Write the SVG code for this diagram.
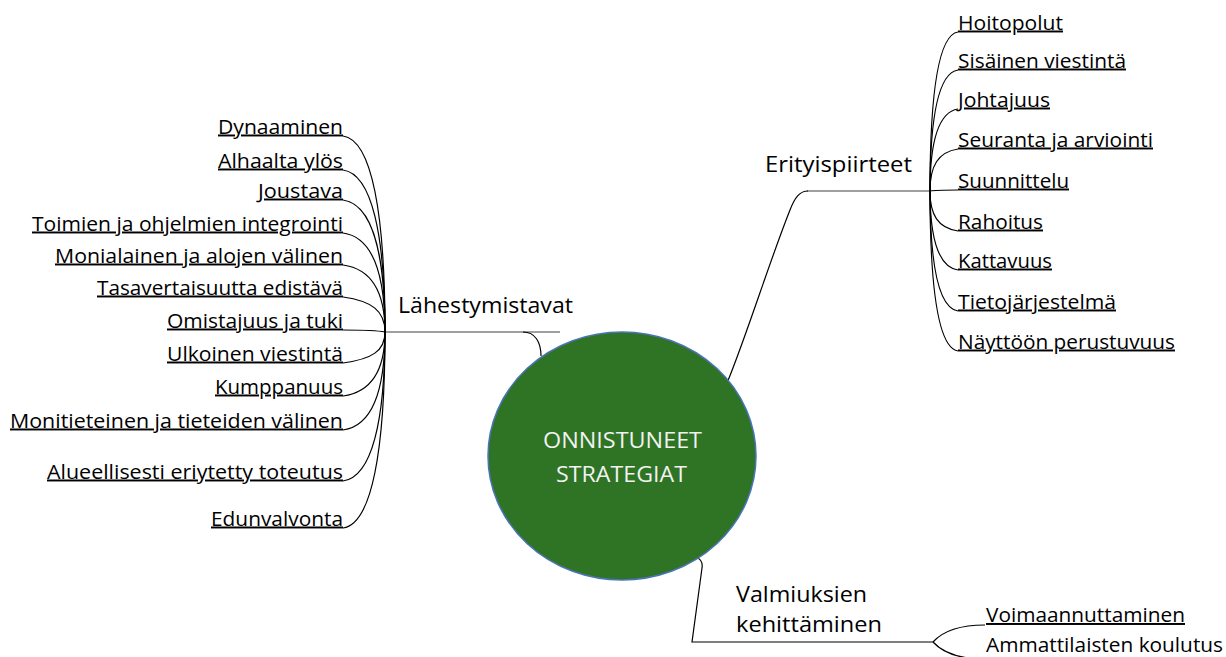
<svg xmlns="http://www.w3.org/2000/svg" width="1226" height="657" viewBox="0 0 1226 657">
<style>
.bg{fill:#ffffff}
.c{fill:none;stroke:#000;stroke-width:1.2}
.g{fill:none;stroke:#7f7f7f;stroke-width:1.6}
.t{font-family:"Open Sans","Noto Sans","Liberation Sans",sans-serif;font-size:19.5px;fill:#000}
.u{text-decoration:underline}
.m{font-family:"Open Sans","Noto Sans","Liberation Sans",sans-serif;font-size:22px;fill:#000}
.w{font-family:"Open Sans","Noto Sans","Liberation Sans",sans-serif;font-size:22px;fill:#f2f2f2}
</style>
<rect class="bg" x="0" y="0" width="1226" height="657"/>
<g id="connectors">
<path class="g" d="M385,332 L560,332"/>
<path class="c" d="M523,332 C535,332 541,342 541,356"/>
<path class="g" d="M807,191 L930,191"/>
<path class="c" d="M727,383 C745,340 770,260 790,210 C795,197 800,191 808,191"/>
<path class="c" d="M693,557 C700,557 703,562 702,568 L692,642 L933,642"/>
<path class="c" d="M933,642 C942,632 958,625 985,625"/>
<path class="c" d="M933,642 C942,652 958,659 985,659"/>
<path class="c" d="M343,136 C372,140 385,214 385,332"/>
<path class="c" d="M343,170 C372,174 385,235 385,332"/>
<path class="c" d="M343,200 C372,204 385,253 385,332"/>
<path class="c" d="M343,233 C372,237 385,273 385,332"/>
<path class="c" d="M343,265 C372,269 385,292 385,332"/>
<path class="c" d="M343,297 C372,301 385,311 385,332"/>
<path class="c" d="M343,330 C365,330 380,331 385,332"/>
<path class="c" d="M343,363 C372,359 385,351 385,332"/>
<path class="c" d="M343,396 C372,392 385,370 385,332"/>
<path class="c" d="M343,430 C372,426 385,391 385,332"/>
<path class="c" d="M343,481 C372,477 385,421 385,332"/>
<path class="c" d="M343,528 C372,524 385,450 385,332"/>
<path class="c" d="M958,32 C938,35 930,96 930,191"/>
<path class="c" d="M958,70 C938,73 930,118 930,191"/>
<path class="c" d="M958,109 C938,112 930,142 930,191"/>
<path class="c" d="M958,149 C938,152 930,166 930,191"/>
<path class="c" d="M958,190 C945,190 935,190 930,191"/>
<path class="c" d="M958,231 C938,228 930,215 930,191"/>
<path class="c" d="M958,270 C938,267 930,238 930,191"/>
<path class="c" d="M958,311 C938,308 930,263 930,191"/>
<path class="c" d="M958,351 C938,348 930,287 930,191"/>
</g>
<g id="center">
<ellipse cx="622" cy="456" rx="134" ry="124" fill="#2e7424" stroke="#4a74b8" stroke-width="1.5"/>
<text class="w" x="543" y="448" textLength="159" lengthAdjust="spacingAndGlyphs">ONNISTUNEET</text>
<text class="w" x="556" y="482" textLength="131" lengthAdjust="spacingAndGlyphs">STRATEGIAT</text>
</g>
<g id="lahestymistavat"><text class="m" x="398" y="313" textLength="175" lengthAdjust="spacingAndGlyphs">Lähestymistavat</text></g>
<g id="erityispiirteet"><text class="m" x="765" y="172" textLength="147" lengthAdjust="spacingAndGlyphs">Erityispiirteet</text></g>
<g id="valmiuksien">
<text class="m" x="736" y="602" textLength="131" lengthAdjust="spacingAndGlyphs">Valmiuksien</text>
<text class="m" x="736" y="632" textLength="146" lengthAdjust="spacingAndGlyphs">kehittäminen</text>
</g>
<g id="l1"><text class="t u" x="218" y="133.5" textLength="125" lengthAdjust="spacingAndGlyphs">Dynaaminen</text></g>
<g id="l2"><text class="t u" x="218" y="167.5" textLength="125" lengthAdjust="spacingAndGlyphs">Alhaalta ylös</text></g>
<g id="l3"><text class="t u" x="258" y="197.5" textLength="85" lengthAdjust="spacingAndGlyphs">Joustava</text></g>
<g id="l4"><text class="t u" x="32" y="230.5" textLength="311" lengthAdjust="spacingAndGlyphs">Toimien ja ohjelmien integrointi</text></g>
<g id="l5"><text class="t u" x="55" y="262.5" textLength="288" lengthAdjust="spacingAndGlyphs">Monialainen ja alojen välinen</text></g>
<g id="l6"><text class="t u" x="97" y="294.5" textLength="246" lengthAdjust="spacingAndGlyphs">Tasavertaisuutta edistävä</text></g>
<g id="l7"><text class="t u" x="167" y="327.5" textLength="176" lengthAdjust="spacingAndGlyphs">Omistajuus ja tuki</text></g>
<g id="l8"><text class="t u" x="167" y="360.5" textLength="176" lengthAdjust="spacingAndGlyphs">Ulkoinen viestintä</text></g>
<g id="l9"><text class="t u" x="215" y="393.5" textLength="128" lengthAdjust="spacingAndGlyphs">Kumppanuus</text></g>
<g id="l10"><text class="t u" x="10" y="427.5" textLength="333" lengthAdjust="spacingAndGlyphs">Monitieteinen ja tieteiden välinen</text></g>
<g id="l11"><text class="t u" x="47" y="478.5" textLength="296" lengthAdjust="spacingAndGlyphs">Alueellisesti eriytetty toteutus</text></g>
<g id="l12"><text class="t u" x="211" y="525.5" textLength="132" lengthAdjust="spacingAndGlyphs">Edunvalvonta</text></g>
<g id="r1"><text class="t u" x="958" y="29.5" textLength="105" lengthAdjust="spacingAndGlyphs">Hoitopolut</text></g>
<g id="r2"><text class="t u" x="958" y="67.5" textLength="168" lengthAdjust="spacingAndGlyphs">Sisäinen viestintä</text></g>
<g id="r3"><text class="t u" x="958" y="106.5" textLength="92" lengthAdjust="spacingAndGlyphs">Johtajuus</text></g>
<g id="r4"><text class="t u" x="958" y="146.5" textLength="195" lengthAdjust="spacingAndGlyphs">Seuranta ja arviointi</text></g>
<g id="r5"><text class="t u" x="958" y="187.5" textLength="111" lengthAdjust="spacingAndGlyphs">Suunnittelu</text></g>
<g id="r6"><text class="t u" x="958" y="228.5" textLength="85" lengthAdjust="spacingAndGlyphs">Rahoitus</text></g>
<g id="r7"><text class="t u" x="958" y="267.5" textLength="94" lengthAdjust="spacingAndGlyphs">Kattavuus</text></g>
<g id="r8"><text class="t u" x="958" y="308.5" textLength="158" lengthAdjust="spacingAndGlyphs">Tietojärjestelmä</text></g>
<g id="r9"><text class="t u" x="958" y="348.5" textLength="217" lengthAdjust="spacingAndGlyphs">Näyttöön perustuvuus</text></g>
<g id="b1"><text class="t u" x="986" y="622" textLength="199" lengthAdjust="spacingAndGlyphs">Voimaannuttaminen</text></g>
<g id="b2"><text class="t" x="986" y="652" textLength="237" lengthAdjust="spacingAndGlyphs">Ammattilaisten koulutus</text></g>
</svg>
